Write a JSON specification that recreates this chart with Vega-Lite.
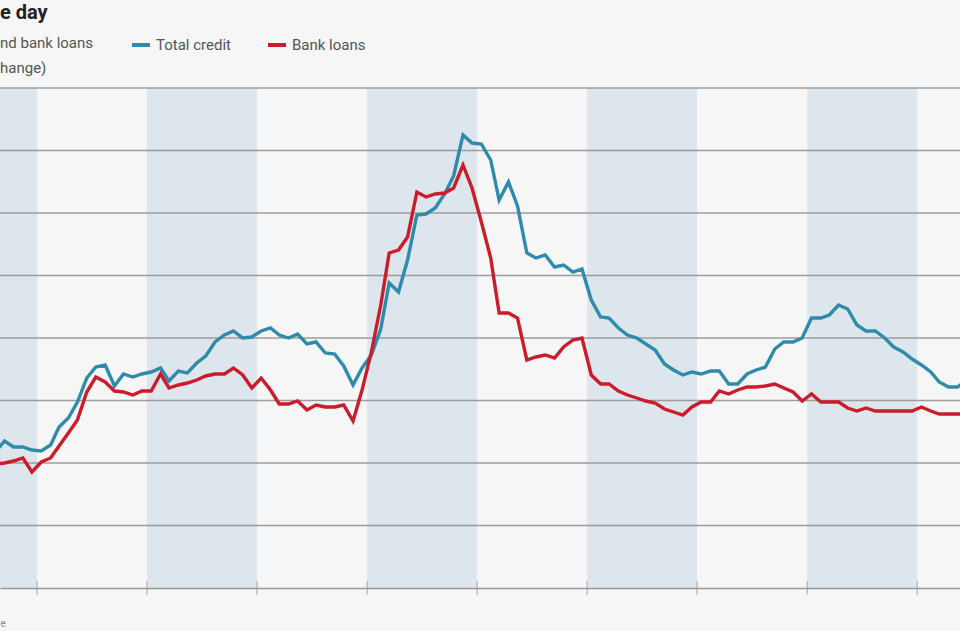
{
  "$schema": "https://vega.github.io/schema/vega-lite/v6.json",
  "width": 960,
  "height": 500,
  "autosize": {"type": "none"},
  "padding": {"left": 0, "top": 88, "right": 0, "bottom": 43},
  "background": "#f6f6f6",
  "config": {"view": {"stroke": null}, "font": "Roboto"},
  "title": {"text": "e day", "anchor": "start", "frame": "group", "fontSize": 20, "fontWeight": "bold", "font": "Roboto", "color": "#222", "offset": 11},
  "datasets": {
    "credit": [
      {"d": "2005-08-15", "Total credit": 10.88, "Bank loans": 9.92},
      {"d": "2005-09-15", "Total credit": 11.76, "Bank loans": 10.0},
      {"d": "2005-10-15", "Total credit": 11.28, "Bank loans": 10.16},
      {"d": "2005-11-15", "Total credit": 11.28, "Bank loans": 10.4},
      {"d": "2005-12-15", "Total credit": 11.04, "Bank loans": 9.28},
      {"d": "2006-01-15", "Total credit": 10.96, "Bank loans": 10.08},
      {"d": "2006-02-15", "Total credit": 11.44, "Bank loans": 10.4},
      {"d": "2006-03-15", "Total credit": 12.88, "Bank loans": 11.36},
      {"d": "2006-04-15", "Total credit": 13.6, "Bank loans": 12.4},
      {"d": "2006-05-15", "Total credit": 14.88, "Bank loans": 13.44},
      {"d": "2006-06-15", "Total credit": 16.8, "Bank loans": 15.68},
      {"d": "2006-07-15", "Total credit": 17.68, "Bank loans": 16.88},
      {"d": "2006-08-15", "Total credit": 17.84, "Bank loans": 16.48},
      {"d": "2006-09-15", "Total credit": 16.16, "Bank loans": 15.76},
      {"d": "2006-10-15", "Total credit": 17.12, "Bank loans": 15.68},
      {"d": "2006-11-15", "Total credit": 16.88, "Bank loans": 15.44},
      {"d": "2006-12-15", "Total credit": 17.12, "Bank loans": 15.76},
      {"d": "2007-01-15", "Total credit": 17.28, "Bank loans": 15.76},
      {"d": "2007-02-15", "Total credit": 17.6, "Bank loans": 17.12},
      {"d": "2007-03-15", "Total credit": 16.56, "Bank loans": 16.0},
      {"d": "2007-04-15", "Total credit": 17.36, "Bank loans": 16.24},
      {"d": "2007-05-15", "Total credit": 17.2, "Bank loans": 16.4},
      {"d": "2007-06-15", "Total credit": 18.0, "Bank loans": 16.64},
      {"d": "2007-07-15", "Total credit": 18.56, "Bank loans": 16.96},
      {"d": "2007-08-15", "Total credit": 19.68, "Bank loans": 17.12},
      {"d": "2007-09-15", "Total credit": 20.24, "Bank loans": 17.12},
      {"d": "2007-10-15", "Total credit": 20.56, "Bank loans": 17.6},
      {"d": "2007-11-15", "Total credit": 20.0, "Bank loans": 17.04},
      {"d": "2007-12-15", "Total credit": 20.08, "Bank loans": 16.0},
      {"d": "2008-01-15", "Total credit": 20.56, "Bank loans": 16.8},
      {"d": "2008-02-15", "Total credit": 20.8, "Bank loans": 15.84},
      {"d": "2008-03-15", "Total credit": 20.24, "Bank loans": 14.72},
      {"d": "2008-04-15", "Total credit": 20.0, "Bank loans": 14.72},
      {"d": "2008-05-15", "Total credit": 20.32, "Bank loans": 14.96},
      {"d": "2008-06-15", "Total credit": 19.52, "Bank loans": 14.24},
      {"d": "2008-07-15", "Total credit": 19.68, "Bank loans": 14.64},
      {"d": "2008-08-15", "Total credit": 18.8, "Bank loans": 14.48},
      {"d": "2008-09-15", "Total credit": 18.72, "Bank loans": 14.48},
      {"d": "2008-10-15", "Total credit": 17.76, "Bank loans": 14.64},
      {"d": "2008-11-15", "Total credit": 16.24, "Bank loans": 13.36},
      {"d": "2008-12-15", "Total credit": 17.6, "Bank loans": 15.84},
      {"d": "2009-01-15", "Total credit": 18.64, "Bank loans": 18.88},
      {"d": "2009-02-15", "Total credit": 20.72, "Bank loans": 22.64},
      {"d": "2009-03-15", "Total credit": 24.4, "Bank loans": 26.8},
      {"d": "2009-04-15", "Total credit": 23.68, "Bank loans": 27.04},
      {"d": "2009-05-15", "Total credit": 26.24, "Bank loans": 28.08},
      {"d": "2009-06-15", "Total credit": 29.84, "Bank loans": 31.68},
      {"d": "2009-07-15", "Total credit": 29.92, "Bank loans": 31.28},
      {"d": "2009-08-15", "Total credit": 30.4, "Bank loans": 31.52},
      {"d": "2009-09-15", "Total credit": 31.52, "Bank loans": 31.6},
      {"d": "2009-10-15", "Total credit": 32.96, "Bank loans": 32.0},
      {"d": "2009-11-15", "Total credit": 36.24, "Bank loans": 33.84},
      {"d": "2009-12-15", "Total credit": 35.6, "Bank loans": 32.0},
      {"d": "2010-01-15", "Total credit": 35.52, "Bank loans": 29.28},
      {"d": "2010-02-15", "Total credit": 34.24, "Bank loans": 26.4},
      {"d": "2010-03-15", "Total credit": 31.04, "Bank loans": 22.0},
      {"d": "2010-04-15", "Total credit": 32.48, "Bank loans": 22.0},
      {"d": "2010-05-15", "Total credit": 30.56, "Bank loans": 21.6},
      {"d": "2010-06-15", "Total credit": 26.8, "Bank loans": 18.24},
      {"d": "2010-07-15", "Total credit": 26.4, "Bank loans": 18.48},
      {"d": "2010-08-15", "Total credit": 26.64, "Bank loans": 18.64},
      {"d": "2010-09-15", "Total credit": 25.68, "Bank loans": 18.4},
      {"d": "2010-10-15", "Total credit": 25.84, "Bank loans": 19.28},
      {"d": "2010-11-15", "Total credit": 25.28, "Bank loans": 19.84},
      {"d": "2010-12-15", "Total credit": 25.52, "Bank loans": 20.0},
      {"d": "2011-01-15", "Total credit": 23.04, "Bank loans": 17.04},
      {"d": "2011-02-15", "Total credit": 21.68, "Bank loans": 16.32},
      {"d": "2011-03-15", "Total credit": 21.6, "Bank loans": 16.32},
      {"d": "2011-04-15", "Total credit": 20.8, "Bank loans": 15.76},
      {"d": "2011-05-15", "Total credit": 20.24, "Bank loans": 15.44},
      {"d": "2011-06-15", "Total credit": 20.0, "Bank loans": 15.2},
      {"d": "2011-07-15", "Total credit": 19.52, "Bank loans": 14.96},
      {"d": "2011-08-15", "Total credit": 19.04, "Bank loans": 14.8},
      {"d": "2011-09-15", "Total credit": 17.92, "Bank loans": 14.32},
      {"d": "2011-10-15", "Total credit": 17.44, "Bank loans": 14.08},
      {"d": "2011-11-15", "Total credit": 17.04, "Bank loans": 13.84},
      {"d": "2011-12-15", "Total credit": 17.28, "Bank loans": 14.48},
      {"d": "2012-01-15", "Total credit": 17.12, "Bank loans": 14.88},
      {"d": "2012-02-15", "Total credit": 17.36, "Bank loans": 14.88},
      {"d": "2012-03-15", "Total credit": 17.36, "Bank loans": 15.76},
      {"d": "2012-04-15", "Total credit": 16.32, "Bank loans": 15.52},
      {"d": "2012-05-15", "Total credit": 16.32, "Bank loans": 15.84},
      {"d": "2012-06-15", "Total credit": 17.12, "Bank loans": 16.08},
      {"d": "2012-07-15", "Total credit": 17.44, "Bank loans": 16.08},
      {"d": "2012-08-15", "Total credit": 17.68, "Bank loans": 16.16},
      {"d": "2012-09-15", "Total credit": 19.12, "Bank loans": 16.32},
      {"d": "2012-10-15", "Total credit": 19.68, "Bank loans": 16.0},
      {"d": "2012-11-15", "Total credit": 19.68, "Bank loans": 15.68},
      {"d": "2012-12-15", "Total credit": 20.0, "Bank loans": 14.96},
      {"d": "2013-01-15", "Total credit": 21.6, "Bank loans": 15.52},
      {"d": "2013-02-15", "Total credit": 21.6, "Bank loans": 14.88},
      {"d": "2013-03-15", "Total credit": 21.84, "Bank loans": 14.88},
      {"d": "2013-04-15", "Total credit": 22.64, "Bank loans": 14.88},
      {"d": "2013-05-15", "Total credit": 22.32, "Bank loans": 14.4},
      {"d": "2013-06-15", "Total credit": 21.04, "Bank loans": 14.16},
      {"d": "2013-07-15", "Total credit": 20.56, "Bank loans": 14.4},
      {"d": "2013-08-15", "Total credit": 20.56, "Bank loans": 14.16},
      {"d": "2013-09-15", "Total credit": 20.0, "Bank loans": 14.16},
      {"d": "2013-10-15", "Total credit": 19.28, "Bank loans": 14.16},
      {"d": "2013-11-15", "Total credit": 18.88, "Bank loans": 14.16},
      {"d": "2013-12-15", "Total credit": 18.32, "Bank loans": 14.16},
      {"d": "2014-01-15", "Total credit": 17.84, "Bank loans": 14.48},
      {"d": "2014-02-15", "Total credit": 17.28, "Bank loans": 14.16},
      {"d": "2014-03-15", "Total credit": 16.48, "Bank loans": 13.92},
      {"d": "2014-04-15", "Total credit": 16.08, "Bank loans": 13.92},
      {"d": "2014-05-15", "Total credit": 16.08, "Bank loans": 13.92},
      {"d": "2014-06-15", "Total credit": 16.64, "Bank loans": 13.92}
    ],
    "bands": [
      {"start": "2005-01-01", "end": "2006-01-01"},
      {"start": "2007-01-01", "end": "2008-01-01"},
      {"start": "2009-01-01", "end": "2010-01-01"},
      {"start": "2011-01-01", "end": "2012-01-01"},
      {"start": "2013-01-01", "end": "2014-01-01"}
    ],
    "years": [
      {"d": "2006-01-01"}, {"d": "2007-01-01"}, {"d": "2008-01-01"}, {"d": "2009-01-01"},
      {"d": "2010-01-01"}, {"d": "2011-01-01"}, {"d": "2012-01-01"}, {"d": "2013-01-01"}, {"d": "2014-01-01"}
    ],
    "grid": [{"v": 5}, {"v": 10}, {"v": 15}, {"v": 20}, {"v": 25}, {"v": 30}, {"v": 35}, {"v": 40}]
  },
  "layer": [
    {
      "data": {"name": "bands"},
      "mark": {"type": "rect", "color": "#dde6ec", "clip": true},
      "encoding": {
        "x": {
          "field": "start", "type": "temporal",
          "scale": {"type": "utc", "domain": [{"year": 2005, "month": 8, "date": 31, "utc": true}, {"year": 2014, "month": 5, "date": 23, "utc": true}]},
          "axis": {"title": "e", "labels": false, "ticks": false, "grid": false, "domain": true, "domainColor": "#999", "domainWidth": 1.5, "zindex": 1, "titleX": 0, "titleY": 38, "titleAlign": "left", "titleBaseline": "alphabetic", "titleFontSize": 10, "titleFontWeight": "normal", "titleColor": "#888", "titleFont": "Roboto"}
        },
        "x2": {"field": "end"}
      }
    },
    {
      "data": {"name": "grid"},
      "mark": {"type": "rule", "color": "#9c9c9c", "strokeWidth": 1.3},
      "encoding": {
        "y": {"field": "v", "type": "quantitative", "scale": {"domain": [0, 40], "nice": false, "zero": false}, "axis": null}
      }
    },
    {
      "data": {"name": "years"},
      "mark": {"type": "tick", "orient": "vertical", "color": "#999", "size": 14, "thickness": 1.2},
      "encoding": {
        "x": {"field": "d", "type": "temporal"},
        "y": {"datum": 0, "type": "quantitative"}
      }
    },
    {
      "data": {"name": "credit"},
      "transform": [{"fold": ["Total credit", "Bank loans"], "as": ["series", "value"]}],
      "mark": {"type": "line", "strokeWidth": 3.4, "clip": true},
      "encoding": {
        "x": {"field": "d", "type": "temporal"},
        "y": {"field": "value", "type": "quantitative"},
        "color": {
          "field": "series", "type": "nominal",
          "scale": {"domain": ["Total credit", "Bank loans"], "range": ["#2e8bab", "#cc1b2a"]},
          "legend": {
            "orient": "none", "legendX": 0, "legendY": -54, "direction": "horizontal",
            "title": ["nd bank loans", "hange)"], "titleOrient": "left", "titleFontSize": 15, "titleFontWeight": "normal", "titleColor": "#555", "titleFont": "Roboto", "titleLineHeight": 25, "titlePadding": 36, "titleBaseline": "line-top",
            "symbolType": "stroke", "symbolStrokeWidth": 4, "symbolSize": 324,
            "labelFontSize": 15, "labelColor": "#555", "labelFont": "Roboto", "labelOffset": 4, "columnPadding": 29
          }
        }
      }
    }
  ]
}
